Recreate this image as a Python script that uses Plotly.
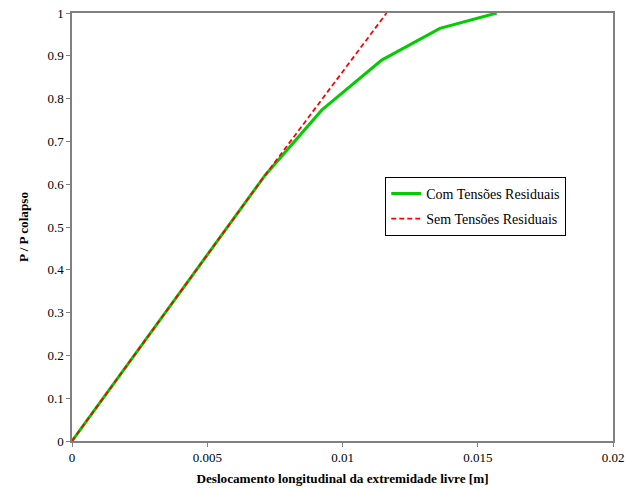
import plotly.graph_objects as go

com_x = [0, 0.00714, 0.00923, 0.01145, 0.0136, 0.0157]
com_y = [0, 0.621, 0.773, 0.890, 0.964, 1.0]
sem_x = [0, 0.00714, 0.01163]
sem_y = [0, 0.621, 1.0]

x_ticks = [0, 0.005, 0.01, 0.015, 0.02]
x_labels = ["0", "0.005", "0.01", "0.015", "0.02"]
y_ticks = [0, 0.1, 0.2, 0.3, 0.4, 0.5, 0.6, 0.7, 0.8, 0.9, 1]
y_labels = ["0", "0.1", "0.2", "0.3", "0.4", "0.5", "0.6", "0.7", "0.8", "0.9", "1"]

font = "Liberation Serif"

fig = go.Figure()
fig.add_trace(go.Scatter(x=com_x, y=com_y, mode="lines", name="Com Tensões Residuais",
                         legendgroup="a",
                         line=dict(color="#00cc00", width=3)))
fig.add_trace(go.Scatter(x=sem_x, y=sem_y, mode="lines", name="Sem Tensões Residuais",
                         legendgroup="b",
                         line=dict(color="#ff0000", width=1.8, dash="5px,3px")))

axis_common = dict(showgrid=False, zeroline=False, showline=True, linecolor="#808080",
                   linewidth=1.5, mirror=True, ticks="outside", ticklen=4,
                   tickcolor="#808080", automargin=False,
                   tickfont=dict(family=font, size=13, color="black"))

fig.update_layout(
    width=625, height=488,
    margin=dict(l=72, r=12, t=13, b=47),
    paper_bgcolor="white", plot_bgcolor="white",
    font=dict(family=font, size=13, color="black"),
    xaxis=dict(range=[0, 0.02], tickvals=x_ticks, ticktext=x_labels,
               title=dict(text="<b>Deslocamento longitudinal da extremidade livre [m]</b>",
                          font=dict(family=font, size=13.2), standoff=9),
               **axis_common),
    yaxis=dict(range=[0, 1], tickvals=y_ticks, ticktext=y_labels,
               title=dict(text="<b>P / P colapso</b>", font=dict(family=font, size=13.2), standoff=16),
               **axis_common),
    legend=dict(x=0.579, y=0.617, xanchor="left", yanchor="top",
                bordercolor="black", borderwidth=1, bgcolor="white",
                font=dict(family=font, size=14), tracegroupgap=4,
                traceorder="grouped"),
    showlegend=True,
)

fig.write_html("out.html")
